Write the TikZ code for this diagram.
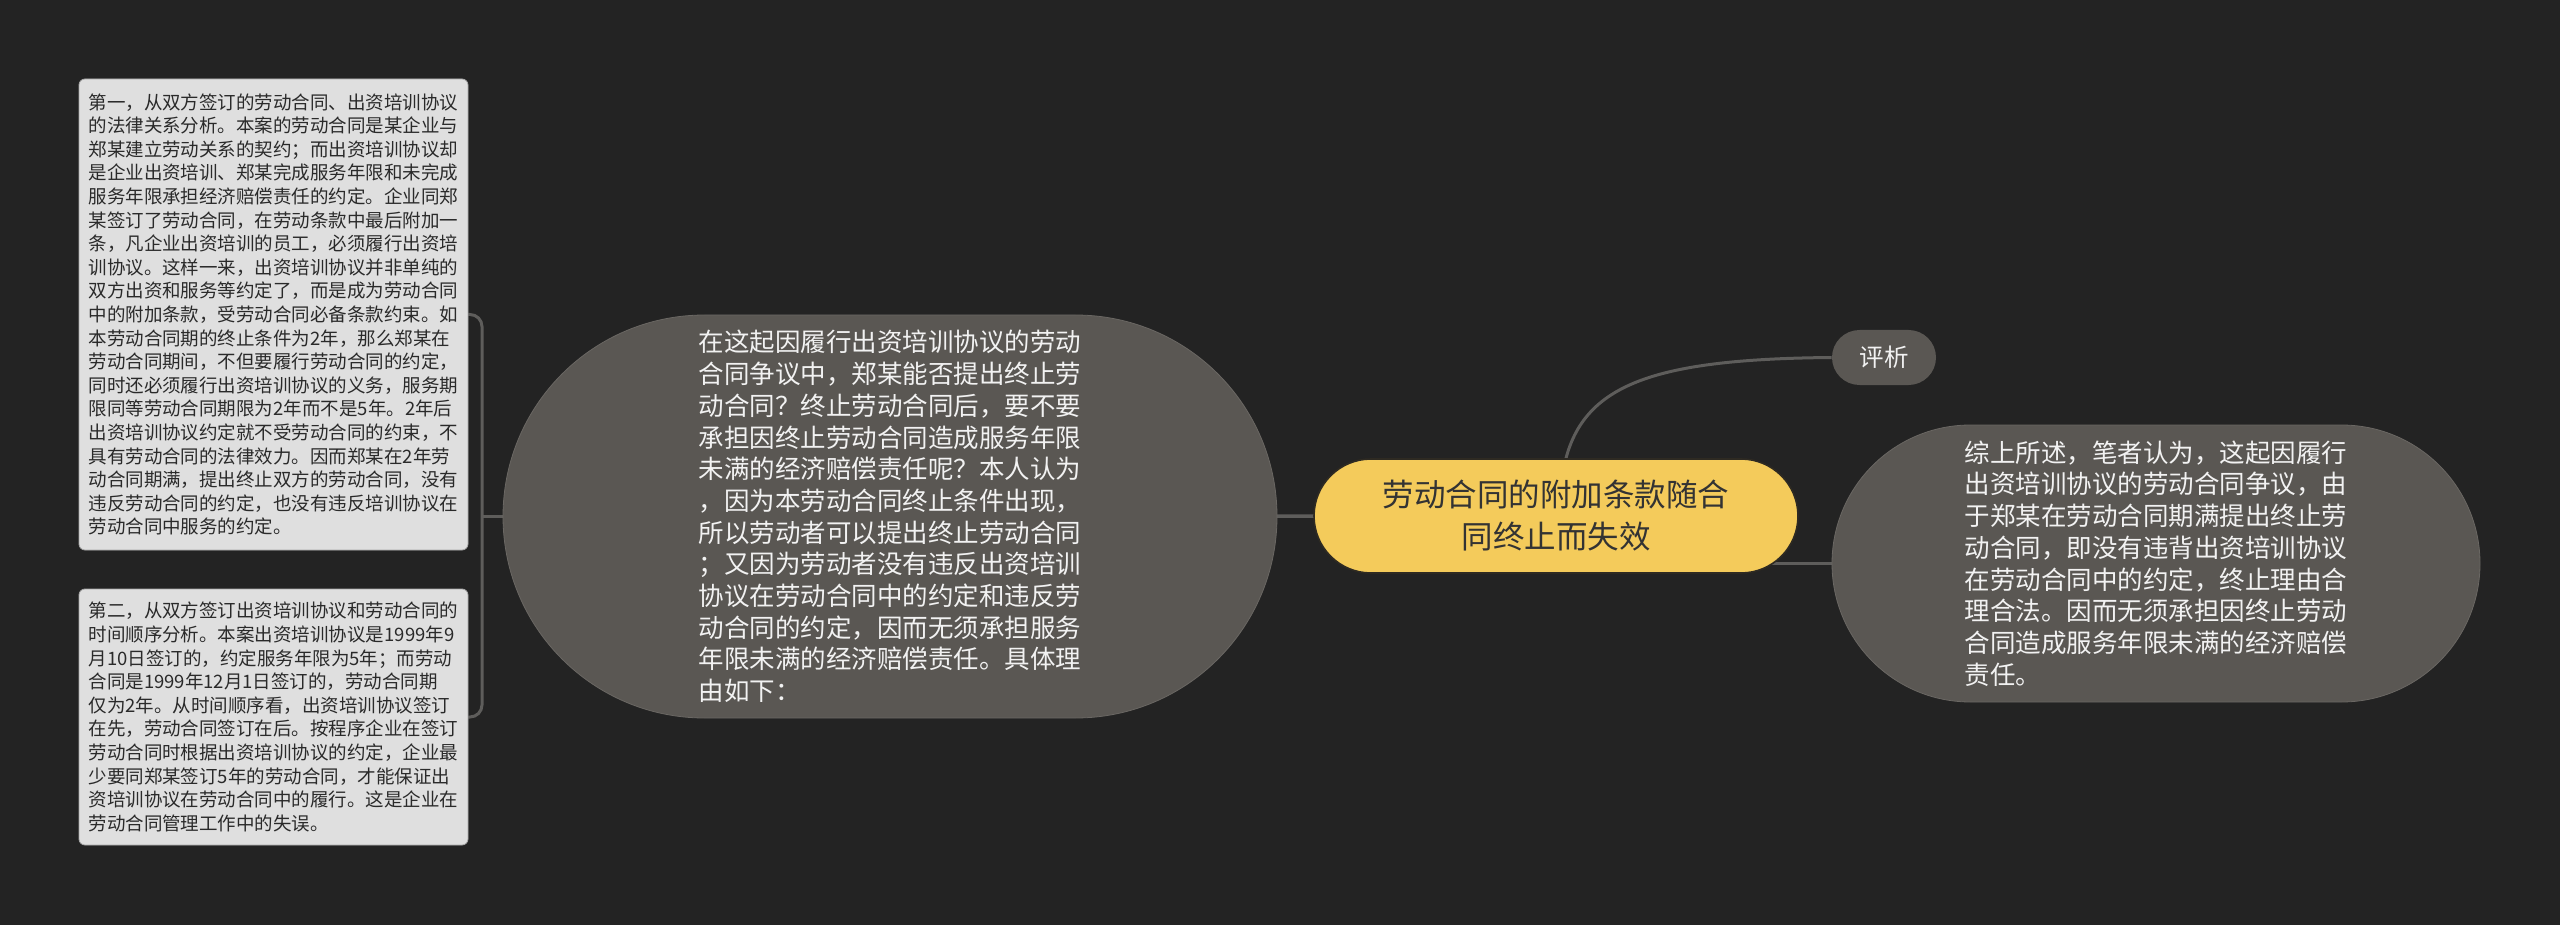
\documentclass[tikz,border=0pt]{standalone}
\usepackage{fontspec}
\setmainfont{Noto Sans CJK SC}
\usetikzlibrary{shapes.misc}
\definecolor{bg}{HTML}{232323}
\definecolor{nodegray}{HTML}{5A5753}
\definecolor{nodeedge}{HTML}{6A6763}
\definecolor{conncolor}{HTML}{5E5D5B}
\definecolor{boxfill}{HTML}{DFDFDF}
\definecolor{boxedge}{HTML}{A8A8A8}
\definecolor{leaftext}{HTML}{2A2A2A}
\definecolor{nodetext}{HTML}{F2F2F2}
\definecolor{rootyellow}{HTML}{F4CB5B}
\definecolor{rootedge}{HTML}{2E2A22}
\definecolor{roottext}{HTML}{333333}
\pgfdeclarelayer{bglayer}
\pgfdeclarelayer{edges}
\pgfsetlayers{bglayer,edges,main}
\begin{document}
\begin{tikzpicture}[x=0.5pt,y=-0.5pt,
  leafbox/.style={draw=boxedge, line width=0.4pt, fill=boxfill, rounded corners=3pt, text=leaftext, align=left,
    font=\fontsize{9.25pt}{11.8pt}\selectfont, minimum width=194.5pt, inner sep=0pt},
  bignode/.style={rounded rectangle, fill=nodegray, draw=nodeedge, line width=0.4pt, text=nodetext, align=left,
    font=\fontsize{12.75pt}{15.85pt}\selectfont, inner sep=0pt},
  rootnode/.style={rounded rectangle, fill=rootyellow, draw=rootedge, line width=0.8pt, text=roottext, align=center,
    font=\fontsize{15.75pt}{21pt}\selectfont, minimum width=242pt, minimum height=57pt, inner sep=0pt},
  tagnode/.style={rounded rectangle, fill=nodegray, text=nodetext,
    font=\fontsize{12.25pt}{14pt}\selectfont, minimum width=52pt, minimum height=27.5pt, inner sep=0pt},
  conn/.style={draw=conncolor, line width=1.75pt},
  thinconn/.style={draw=conncolor, line width=1.5pt}]
\useasboundingbox (0,0) rectangle (2560,925);
\begin{pgfonlayer}{bglayer}
\fill[bg] (0,0) rectangle (2560,925);
\end{pgfonlayer}

\node[rootnode] (root) at (1556,516) {劳动合同的附加条款随合\\同终止而失效};

\node[tagnode] (tag) at (1884,357.5) {评析};

\node[bignode, minimum width=387pt, minimum height=201.5pt] (mid) at (890,516.5)
{在这起因履行出资培训协议的劳动\\
合同争议中，郑某能否提出终止劳\\
动合同？终止劳动合同后，要不要\\
承担因终止劳动合同造成服务年限\\
未满的经济赔偿责任呢？本人认为\\
，因为本劳动合同终止条件出现，\\
所以劳动者可以提出终止劳动合同\\
；又因为劳动者没有违反出资培训\\
协议在劳动合同中的约定和违反劳\\
动合同的约定，因而无须承担服务\\
年限未满的经济赔偿责任。具体理\\
由如下：};

\node[bignode, minimum width=324pt, minimum height=138.5pt] (right) at (2156,563.5)
{综上所述，笔者认为，这起因履行\\
出资培训协议的劳动合同争议，由\\
于郑某在劳动合同期满提出终止劳\\
动合同，即没有违背出资培训协议\\
在劳动合同中的约定，终止理由合\\
理合法。因而无须承担因终止劳动\\
合同造成服务年限未满的经济赔偿\\
责任。};

\node[leafbox, minimum height=235.5pt] (box1) at (273.5,314.5)
{第一，从双方签订的劳动合同、出资培训协议\\
的法律关系分析。本案的劳动合同是某企业与\\
郑某建立劳动关系的契约；而出资培训协议却\\
是企业出资培训、郑某完成服务年限和未完成\\
服务年限承担经济赔偿责任的约定。企业同郑\\
某签订了劳动合同，在劳动条款中最后附加一\\
条，凡企业出资培训的员工，必须履行出资培\\
训协议。这样一来，出资培训协议并非单纯的\\
双方出资和服务等约定了，而是成为劳动合同\\
中的附加条款，受劳动合同必备条款约束。如\\
本劳动合同期的终止条件为2年，那么郑某在\\
劳动合同期间，不但要履行劳动合同的约定，\\
同时还必须履行出资培训协议的义务，服务期\\
限同等劳动合同期限为2年而不是5年。2年后\\
出资培训协议约定就不受劳动合同的约束，不\\
具有劳动合同的法律效力。因而郑某在2年劳\\
动合同期满，提出终止双方的劳动合同，没有\\
违反劳动合同的约定，也没有违反培训协议在\\
劳动合同中服务的约定。};

\node[leafbox, minimum height=128pt] (box2) at (273.5,717)
{第二，从双方签订出资培训协议和劳动合同的\\
时间顺序分析。本案出资培训协议是1999年9\\
月10日签订的，约定服务年限为5年；而劳动\\
合同是1999年12月1日签订的，劳动合同期\\
仅为2年。从时间顺序看，出资培训协议签订\\
在先，劳动合同签订在后。按程序企业在签订\\
劳动合同时根据出资培训协议的约定，企业最\\
少要同郑某签订5年的劳动合同，才能保证出\\
资培训协议在劳动合同中的履行。这是企业在\\
劳动合同管理工作中的失误。};

\coordinate (bx) at (482,516.5);

\begin{pgfonlayer}{edges}
\draw[conn] (mid.center) -- (root.center);
\draw[conn] (root.center |- right.west) -- (right.west);
\draw[thinconn] ([xshift=5pt]root.north) .. controls (1586,383) and (1658,359) .. (tag.west);
\draw[thinconn] (mid.west) -- (bx);
\draw[thinconn, rounded corners=6pt] (box1.east) -| (bx) |- (box2.east);
\end{pgfonlayer}
\end{tikzpicture}
\end{document}
